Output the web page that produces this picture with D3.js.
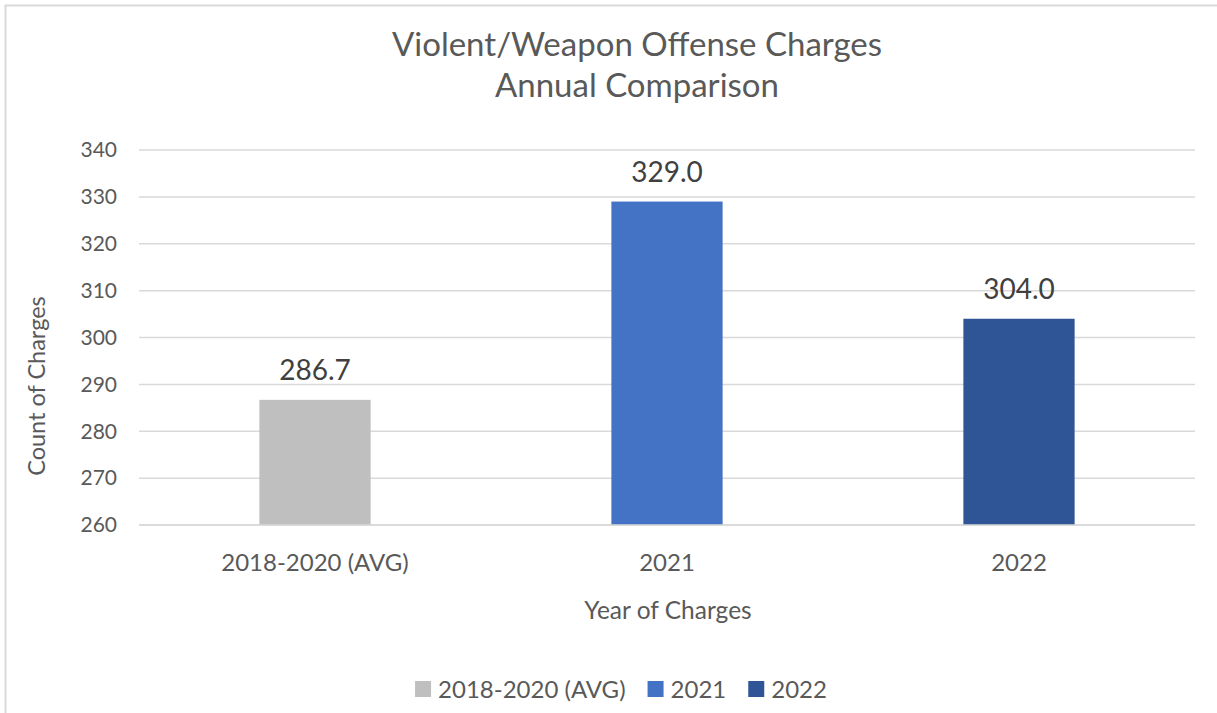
<!DOCTYPE html>
<html>
<head>
<meta charset="utf-8">
<script src="https://cdn.jsdelivr.net/npm/d3@7"></script>
<style>
    body { margin: 0; background: #fff; }
    svg { display: block; font-family: Lato, 'Open Sans', sans-serif; }
</style>
</head>
<body>
<svg></svg>
<script>
const categories = ['2018-2020 (AVG)', '2021', '2022'];
const values = [286.7, 329.0, 304.0];
const colors = ['#BFBFBF', '#4472C4', '#2F5597'];
const yTicks = [260, 270, 280, 290, 300, 310, 320, 330, 340];
const titleLines = ['Violent/Weapon Offense Charges', 'Annual Comparison'];

const SVGsize = {w: 1217, h: 713};
const plot = {l: 139, r: 1195, t: 150, b: 525};

const svg = d3.select('svg')
    .attr('width', SVGsize.w)
    .attr('height', SVGsize.h);

// chart frame
svg.append('path')
    .attr('d', `M5.5,${SVGsize.h} L5.5,5.5 L${SVGsize.w},5.5`)
    .attr('fill', 'none')
    .attr('stroke', '#D9D9D9')
    .attr('stroke-width', 2);

const scaleX = d3.scaleBand()
    .domain(categories)
    .range([plot.l, plot.r]);

const scaleY = d3.scaleLinear()
    .domain([260, 340])
    .range([plot.b, plot.t]);

const barW = scaleX.bandwidth() * 0.316;

// gridlines
svg.append('g')
    .selectAll('line')
    .data(yTicks)
    .join('line')
    .attr('x1', plot.l)
    .attr('x2', plot.r)
    .attr('y1', d => scaleY(d))
    .attr('y2', d => scaleY(d))
    .attr('stroke', '#D9D9D9')
    .attr('stroke-width', 1.5);

// y tick labels
svg.append('g')
    .selectAll('text')
    .data(yTicks)
    .join('text')
    .attr('x', 117)
    .attr('y', d => scaleY(d))
    .attr('dy', '0.35em')
    .attr('text-anchor', 'end')
    .attr('font-size', 21)
    .attr('fill', '#595959')
    .text(d => d);

// bars
svg.append('g')
    .selectAll('rect')
    .data(values)
    .join('rect')
    .attr('x', (d, i) => scaleX(categories[i]) + scaleX.bandwidth() / 2 - barW / 2)
    .attr('width', barW)
    .attr('y', d => scaleY(d))
    .attr('height', d => scaleY(260) - scaleY(d))
    .attr('fill', (d, i) => colors[i]);

// data labels
svg.append('g')
    .selectAll('text')
    .data(values)
    .join('text')
    .attr('x', (d, i) => scaleX(categories[i]) + scaleX.bandwidth() / 2)
    .attr('y', d => scaleY(d) - 20)
    .attr('text-anchor', 'middle')
    .attr('font-size', 28)
    .attr('fill', '#404040')
    .text(d => d.toFixed(1));

// x axis line
svg.append('line')
    .attr('x1', plot.l)
    .attr('x2', plot.r)
    .attr('y1', plot.b)
    .attr('y2', plot.b)
    .attr('stroke', '#D9D9D9')
    .attr('stroke-width', 1.5);

// x labels
svg.append('g')
    .selectAll('text')
    .data(categories)
    .join('text')
    .attr('x', d => scaleX(d) + scaleX.bandwidth() / 2)
    .attr('y', 571)
    .attr('text-anchor', 'middle')
    .attr('font-size', 24)
    .attr('fill', '#595959')
    .text(d => d);

// axis titles
svg.append('text')
    .attr('x', 668)
    .attr('y', 619)
    .attr('text-anchor', 'middle')
    .attr('font-size', 24.5)
    .attr('fill', '#595959')
    .text('Year of Charges');

svg.append('text')
    .attr('transform', `translate(45, ${386}) rotate(-90)`)
    .attr('text-anchor', 'middle')
    .attr('font-size', 23.5)
    .attr('fill', '#595959')
    .text('Count of Charges');

// title
svg.append('g')
    .selectAll('text')
    .data(titleLines)
    .join('text')
    .attr('x', 637)
    .attr('y', (d, i) => 56 + i * 41)
    .attr('text-anchor', 'middle')
    .attr('font-size', 33)
    .attr('fill', '#595959')
    .text(d => d);

// legend
const legend = svg.append('g');
let lx = 0;
const items = legend.selectAll('g')
    .data(categories)
    .join('g');
items.append('rect')
    .attr('width', 16)
    .attr('height', 16)
    .attr('y', -17)
    .attr('fill', (d, i) => colors[i]);
items.append('text')
    .attr('x', 23)
    .attr('y', 0)
    .attr('font-size', 24)
    .attr('fill', '#595959')
    .text(d => d);
items.each(function() {
    d3.select(this).attr('transform', `translate(${lx}, 0)`);
    lx += this.getBBox().width + 22;
});
lx -= 22;
legend.attr('transform', `translate(${621 - lx / 2}, 698)`);
</script>
</body>
</html>
